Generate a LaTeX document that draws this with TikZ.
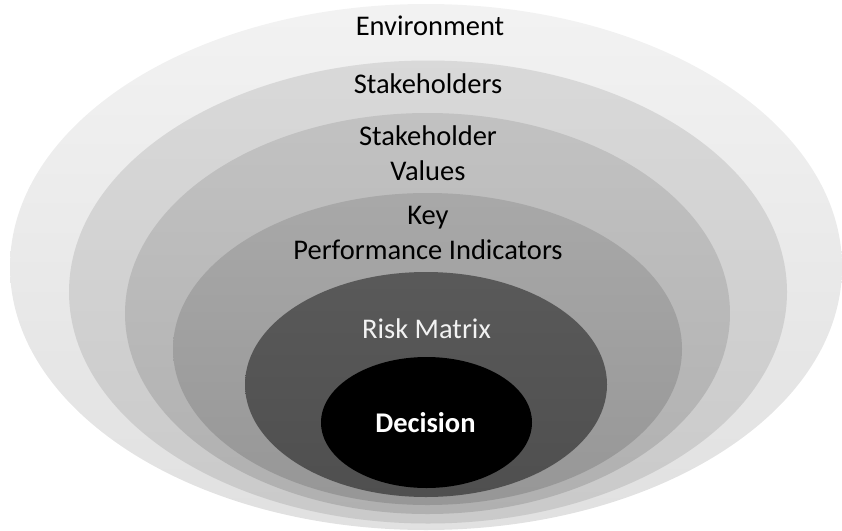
\documentclass[tikz,border=0pt]{standalone}
\usepackage{fontspec}
\setmainfont{Carlito}
\usepackage{tikz}
\usetikzlibrary{shapes.geometric}
\tikzstyle{lag} = [ellipse, draw=none, inner sep=0pt, outer sep=0pt]
\tikzstyle{tekst} = [anchor=base, align=center, inner sep=0pt, font=\fontsize{28.5}{35}\selectfont]

\begin{document}
\begin{tikzpicture}[x=1pt, y=-1pt]
	\useasboundingbox (0,0) rectangle (842,530);
	
	% lagene, utenfra og inn
	\node (miljo) [lag, minimum width=832pt, minimum height=526pt, top color=black!5, bottom color=black!12] at (426,267) {};
	\node (interessenter) [lag, minimum width=718pt, minimum height=463pt, top color=black!15, bottom color=black!21] at (428,292) {};
	\node (verdier) [lag, minimum width=605pt, minimum height=401pt, top color=black!24, bottom color=black!31] at (427.5,313.5) {};
	\node (kpi) [lag, minimum width=509pt, minimum height=312pt, top color=black!34, bottom color=black!41] at (427.5,349) {};
	\node (risiko) [lag, minimum width=362pt, minimum height=225pt, top color=black!65, bottom color=black!69] at (426,384.5) {};
	\node (beslutning) [lag, minimum width=211pt, minimum height=131pt, fill=black] at (426.5,422.5) {};
	
	% tekstene (base = siste linje)
	\node (miljotekst) [tekst] at (430,35) {Environment};
	\node (interessenttekst) [tekst] at (428,93) {Stakeholders};
	\node (verditekst) [tekst] at (428,180) {Stakeholder\\Values};
	\node (kpitekst) [tekst] at (428,259) {Key\\Performance Indicators};
	\node (risikotekst) [tekst, text=black!5] at (426.5,338) {Risk Matrix};
	\node (beslutningtekst) [tekst, text=white, font=\fontsize{28.5}{35}\selectfont\bfseries] at (425.5,432) {Decision};
\end{tikzpicture}
\end{document}
